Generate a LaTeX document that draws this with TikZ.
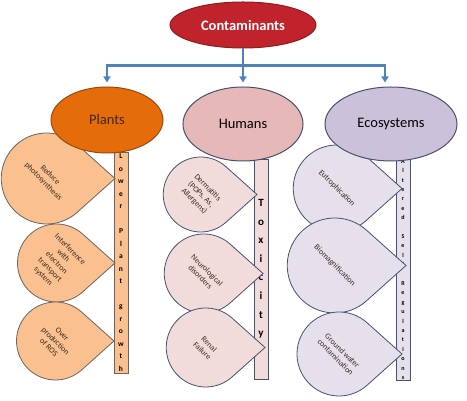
\documentclass[tikz,border=0pt]{standalone}
\usepackage{fontspec}
\setmainfont{Carlito}
\usetikzlibrary{arrows.meta, shapes.geometric, positioning, calc}

\definecolor{contred}{HTML}{C0232B}
\definecolor{contline}{HTML}{8E1B1F}
\definecolor{linkblue}{HTML}{4F81BD}
\definecolor{plantorange}{HTML}{E46C0A}
\definecolor{plantedge}{HTML}{9A4A10}
\definecolor{plantlight}{HTML}{FAC090}
\definecolor{humanpink}{HTML}{E6B9B8}
\definecolor{humanlight}{HTML}{F2DCDB}
\definecolor{ecolilac}{HTML}{CCC1DA}
\definecolor{ecolight}{HTML}{E5E0EC}
\definecolor{navyline}{HTML}{45526F}
\definecolor{greyline}{HTML}{6B6460}
\definecolor{darktext}{HTML}{3A2A1E}

% teardrop: name, centre x, centre y, radius, style, text
\newcommand{\teardrop}[6]{%
    \draw[#5] (#2+1.5*#4, #3) -- ([shift={(48.19:#4)}] #2, #3)
        arc[start angle = 48.19, end angle = 311.81, radius = #4] -- cycle;
    \node[droptext] (#1) at (#2, #3) {#6};
}

\begin{document}
\begin{tikzpicture}[
        x = 1pt, y = 1pt,
        >= {Triangle[width = 7pt, length = 6pt]},
        every node/.style = {inner sep = 0pt},
        head/.style = {ellipse, line width = 1pt, font = \fontsize{14.5}{16}\selectfont},
        link/.style = {draw = linkblue, line width = 2.4pt},
        stackbar/.style = {draw, line width = 0.8pt, align = center, minimum width = 14, text = black},
        droptext/.style = {rotate = -45, align = center, text = darktext, font = \fontsize{8}{9.5}\selectfont},
        plantdrop/.style = {draw = greyline, fill = plantlight, line width = 0.8pt},
        humandrop/.style = {draw = navyline, fill = humanlight, line width = 0.8pt},
        ecodrop/.style = {draw = navyline, fill = ecolight, line width = 0.8pt}
    ]
    \useasboundingbox (0,0) rectangle (467,401);

    % bars
    \node[stackbar, fill = plantlight, draw = greyline, minimum height = 221,
          font = \fontsize{7.5}{12.5}\selectfont\bfseries] (plantbar) at (121, 138.5)
          {L\\o\\w\\e\\r\\[12.5pt]P\\l\\a\\n\\t\\[12.5pt]g\\r\\o\\w\\t\\h};
    \node[stackbar, fill = humanlight, draw = navyline, minimum height = 220,
          font = \fontsize{11}{18.6}\selectfont\bfseries] (humanbar) at (261, 132)
          {T\\o\\x\\i\\c\\i\\t\\y};
    \node[stackbar, fill = ecolight, draw = navyline, minimum height = 221,
          font = \fontsize{6}{9.4}\selectfont\bfseries] (ecobar) at (403, 131.5)
          {A\\l\\t\\e\\r\\e\\d\\[9.4pt]S\\e\\l\\f\\[9.4pt]R\\e\\g\\u\\l\\a\\t\\i\\o\\n\\s};

    % drops
    \teardrop{photo}{46.75}{222.5}{45.5}{plantdrop}{Reduce\\photosynthesis}
    \teardrop{electron}{56.5}{138}{39}{plantdrop}{Interference\\with\\electron\\transport\\system}
    \teardrop{ros}{55.5}{60}{39}{plantdrop}{Over\\production\\of ROS}

    \teardrop{derma}{200.75}{206.5}{37.5}{humandrop}{Dermatitis\\(POPs, As,\\Allergens)}
    \teardrop{neuro}{203.75}{127.5}{39.5}{humandrop}{Neurological\\disorders}
    \teardrop{renal}{205.75}{53.5}{39.5}{humandrop}{Renal\\Failure}

    \teardrop{eutro}{336.75}{212.5}{43.5}{ecodrop}{Eutrophication}
    \teardrop{biomag}{334.75}{135.5}{47.5}{ecodrop}{Biomagnification}
    \teardrop{ground}{339}{47}{42}{ecodrop}{Ground water\\contamination}

    % heads
    \node[head, fill = contred, draw = contline, minimum width = 146, minimum height = 46,
          text = white, font = \fontsize{14.5}{16}\selectfont\bfseries] (cont) at (243, 376) {Contaminants};
    \node[head, fill = plantorange, draw = plantedge, minimum width = 112, minimum height = 66,
          text = darktext] (plants) at (107, 281) {Plants};
    \node[head, fill = humanpink, draw = navyline, minimum width = 120, minimum height = 74,
          text = black] (humans) at (243, 277) {Humans};
    \node[head, fill = ecolilac, draw = navyline, minimum width = 132, minimum height = 74,
          text = black] (eco) at (391, 277) {Ecosystems};

    % links
    \coordinate (hub) at ($(cont.south) + (0,-17)$);
    \draw[link] (cont.south) -- (hub);
    \draw[link, ->, shorten >= 4pt] (hub) -| (plants.north);
    \draw[link, ->, shorten >= 4pt] (hub) -- (humans.north);
    \draw[link, ->, shorten >= 4pt] (hub) -| ([xshift = -6] eco.north);
\end{tikzpicture}
\end{document}
